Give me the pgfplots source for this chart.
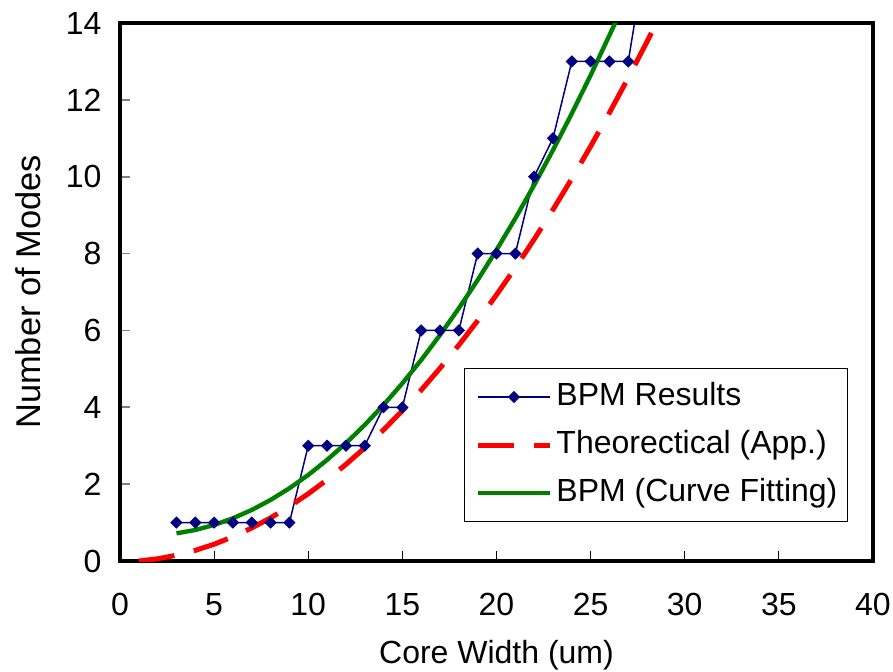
\documentclass[border=0pt]{standalone}
\usepackage{fontspec}
\setmainfont{Liberation Sans}
\usepackage{pgfplots}
\pgfplotsset{compat=1.18}
\definecolor{bpmblue}{RGB}{0,0,128}
\definecolor{fitgreen}{RGB}{0,128,0}
\begin{document}
\begin{tikzpicture}
\begin{axis}[
  at={(0,0)}, anchor=south west,
  scale only axis, width=376.5pt, height=269pt,
  xmin=0, xmax=40, ymin=0, ymax=14,
  xtick={0,5,...,40}, ytick={0,2,...,14},
  tick pos=left, tick align=inside, major tick length=5pt,
  x tick style={black, line width=0.5pt},
  y tick style={gray, line width=0.8pt},
  axis line style={black, line width=1.6pt},
  font=\fontsize{16}{19}\selectfont,
  /pgf/number format/assume math mode=true,
  xticklabel style={yshift=-12.5pt},
  yticklabel style={xshift=-5.7pt},
  xlabel={Core Width (um)}, ylabel={Number of Modes},
  every axis x label/.style={at={(axis description cs:0.5,-0.1747)}, anchor=center},
  every axis y label/.style={at={(axis description cs:-0.1222,0.5)}, anchor=center, rotate=90, font=\fontsize{17.2}{20}\selectfont},
  legend style={at={(rel axis cs:0.4568,0.0724)}, anchor=south west, draw=black, line width=0.5pt,
    fill=white, inner xsep=3pt, inner ysep=4.75pt, row sep=5pt,
    nodes={inner sep=2pt, text height=11.5pt, text depth=3.5pt, anchor=west},
    /tikz/every even column/.append style={column sep=0.5pt}},
  legend cell align=left,
  legend image code/.code={\path (0pt,0pt); \draw[mark repeat=2,mark phase=2,#1] plot coordinates {(2.5pt,0pt) (20.5pt,0pt) (38.5pt,0pt)};},
]
\addplot[bpmblue, line width=0.75pt, mark=square*, mark size=1.8pt, mark options={rotate=45, solid, fill=bpmblue}] coordinates {
(3,1) (4,1) (5,1) (6,1) (7,1) (8,1) (9,1) (10,3) (11,3) (12,3) (13,3) (14,4) (15,4) (16,6) (17,6) (18,6) (19,8) (20,8) (21,8) (22,10) (23,11) (24,13) (25,13) (26,13) (27,13) (28,16)
};
\addlegendentry{BPM Results}
\addplot[red, line width=2.5pt, dash pattern=on 18pt off 10pt] coordinates {
(1,0.0) (2,0.058) (3,0.151) (4,0.277) (5,0.437) (6,0.632) (7,0.860) (8,1.123) (9,1.420) (10,1.750) (11,2.115) (12,2.513) (13,2.946) (14,3.413) (15,3.913) (16,4.448) (17,5.017) (18,5.619) (19,6.256) (20,6.927) (21,7.631) (22,8.370) (23,9.143) (24,9.950) (25,10.791) (26,11.666) (27,12.574) (28,13.518) (29,14.494)
};
\addlegendentry{Theorectical (App.)}
\addplot[fitgreen, line width=2.2pt] coordinates {
(3,0.72) (4,0.807) (5,0.938) (6,1.112) (7,1.329) (8,1.59) (9,1.893) (10,2.24) (11,2.631) (12,3.064) (13,3.541) (14,4.061) (15,4.624) (16,5.231) (17,5.882) (18,6.576) (19,7.312) (20,8.092) (21,8.916) (22,9.782) (23,10.692) (24,11.645) (25,12.641) (26,13.681) (26.5,14.21)
};
\addlegendentry{BPM (Curve Fitting)}
\end{axis}
\pgfresetboundingbox
\path[use as bounding box] (-60pt,-55pt) rectangle (386.5pt,280.5pt);
\end{tikzpicture}
\end{document}
